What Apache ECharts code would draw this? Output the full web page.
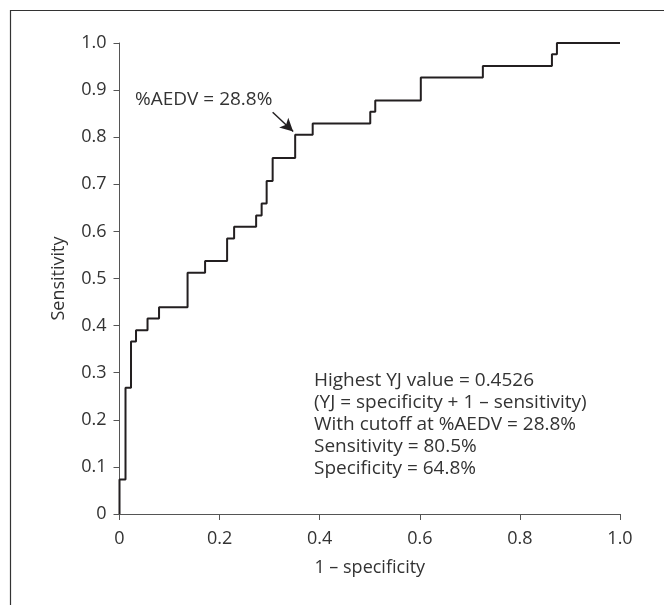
<!DOCTYPE html>
<html>
<head>
<meta charset="utf-8">
<script src="https://cdn.jsdelivr.net/npm/echarts@6/dist/echarts.min.js"></script>
<style>
  html, body { margin: 0; padding: 0; background: #fff; }
  #chart { width: 664px; height: 605px; }
</style>
</head>
<body>
<div id="chart"></div>
<script>
// ROC curve points: 1 - specificity (x) and sensitivity (y), top of each vertical step
var fpr = [0, 0, 0.012, 0.023, 0.033, 0.056, 0.079, 0.136, 0.171, 0.215, 0.229, 0.273,
  0.284, 0.294, 0.306, 0.351, 0.386, 0.501, 0.511, 0.602, 0.726, 0.864, 0.874, 1.0];
var tpr = [0, 0.073, 0.268, 0.366, 0.390, 0.415, 0.439, 0.512, 0.537, 0.585, 0.610, 0.634,
  0.659, 0.707, 0.756, 0.805, 0.829, 0.854, 0.878, 0.927, 0.951, 0.976, 1.0, 1.0];

var xTicks = ["0", "0.2", "0.4", "0.6", "0.8", "1.0"];
var yTicks = ["0", "0.1", "0.2", "0.3", "0.4", "0.5", "0.6", "0.7", "0.8", "0.9", "1.0"];

var cutoffLabel = "%AEDV = 28.8%";
var arrowFrom = [0.306, 0.853];
var arrowTo = [0.347, 0.812];
var labelAt = [0.031, 0.879];

var notes = [
  "Highest YJ value = 0.4526",
  "(YJ = specificity + 1 \u2013 sensitivity)",
  "With cutoff at %AEDV = 28.8%",
  "Sensitivity = 80.5%",
  "Specificity = 64.8%",
];

var font = "'Open Sans', 'Noto Sans', sans-serif";
var ink = "#231f20";

var points = [];
for (var i = 0; i < fpr.length; i++) {
  points.push([fpr[i], tpr[i]]);
}

var myChart = echarts.init(document.getElementById("chart"));
var option = {
  animation: false,
  backgroundColor: "#fff",
  grid: {
    left: 119.5,
    right: 44,
    top: 43,
    bottom: 91,
  },
  textStyle: { fontFamily: font },
  xAxis: {
    type: "value",
    min: 0,
    max: 1,
    interval: 0.2,
    name: "1 \u2013 specificity",
    nameLocation: "middle",
    nameGap: 45,
    nameTextStyle: { color: "#333", fontSize: 18, fontFamily: font },
    axisLine: { onZero: false, lineStyle: { color: "#555", width: 1 } },
    axisTick: { show: true, length: 6, inside: false, lineStyle: { color: "#555" } },
    axisLabel: {
      color: "#333",
      fontSize: 18,
      fontFamily: font,
      margin: 16,
      formatter: function (v) {
        return xTicks[Math.round(v / 0.2)];
      },
    },
    splitLine: { show: false },
  },
  yAxis: {
    type: "value",
    min: 0,
    max: 1,
    interval: 0.1,
    name: "Sensitivity",
    nameLocation: "middle",
    nameGap: 52,
    nameTextStyle: { color: "#333", fontSize: 18, fontFamily: font },
    axisLine: { show: true, onZero: false, lineStyle: { color: "#555", width: 1 } },
    axisTick: { show: true, length: 6, lineStyle: { color: "#555" } },
    axisLabel: {
      color: "#333",
      fontSize: 18,
      fontFamily: font,
      margin: 13,
      formatter: function (v) {
        return yTicks[Math.round(v / 0.1)];
      },
    },
    splitLine: { show: false },
  },
  series: [
    {
      type: "line",
      data: points,
      step: "end",
      symbol: "none",
      clip: false,
      lineStyle: { color: ink, width: 2 },
      markLine: {
        silent: true,
        symbol: ["none", "arrow"],
        symbolSize: [10, 13],
        lineStyle: { color: ink, width: 1.5, type: "solid" },
        label: { show: false },
        data: [[{ coord: arrowFrom }, { coord: arrowTo }]],
      },
      markPoint: {
        silent: true,
        symbol: "circle",
        symbolSize: 0,
        data: [
          {
            coord: labelAt,
            label: {
              show: true,
              position: "right",
              distance: 0,
              formatter: cutoffLabel,
              color: "#333",
              fontSize: 19,
              fontFamily: font,
            },
          },
        ],
      },
    },
  ],
  graphic: [
    {
      type: "rect",
      left: 8,
      top: 8,
      shape: { width: 700, height: 700 },
      style: { fill: "none", stroke: "#333", lineWidth: 1.2 },
      silent: true,
    },
    {
      type: "text",
      left: 314,
      top: 370,
      style: {
        text: notes.join("\n"),
        fill: "#333",
        font: "19px " + font,
        lineHeight: 21.8,
      },
      silent: true,
    },
  ],
};

option && myChart.setOption(option);
</script>
</body>
</html>
